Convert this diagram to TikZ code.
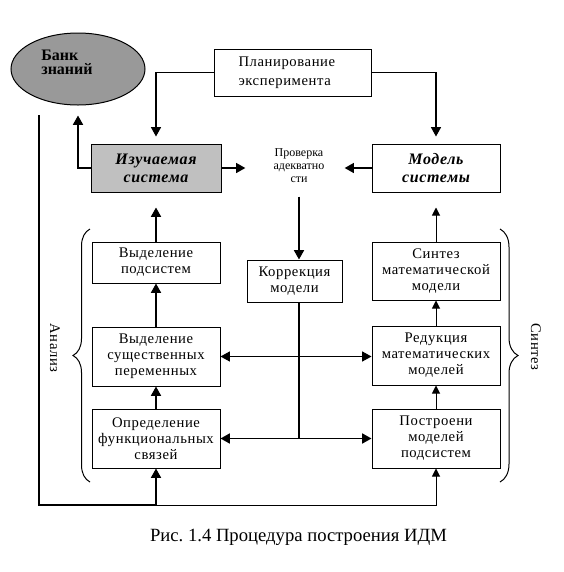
\documentclass[tikz,border=0pt]{standalone}
\usepackage{fontspec}
\setmainfont{Liberation Serif}
\newfontfamily\spacedrm{Liberation Serif}[LetterSpace=4]
\usetikzlibrary{arrows.meta}
\usetikzlibrary{shapes.geometric}
\usetikzlibrary{decorations.pathreplacing}

\definecolor{bankgray}{RGB}{153,153,153}
\definecolor{izgray}{RGB}{192,192,192}

\tikzset{
  block/.style={draw, line width=0.75pt, inner sep=0pt, minimum width=96pt, align=center,
    font=\spacedrm\fontsize{11}{12}\selectfont},
  conn/.style={line width=1.25pt},
  fine/.style={line width=0.75pt},
  arr/.style={-{Triangle[length=7pt,width=7.5pt]}},
  arrs/.style={-{Triangle[length=6pt,width=6pt]}},
}

\begin{document}
\frenchspacing
\begin{tikzpicture}[x=0.75pt,y=-0.75pt]
\useasboundingbox (0,0) rectangle (564,572);
% top row
\node[ellipse, draw, line width=0.75pt, fill=bankgray, minimum width=100.5pt, minimum height=54pt] (bank) at (78,69) {};
\node[align=left, font=\bfseries\fontsize{12}{10.5}\selectfont] (banktxt) at (67,62) {Банк\\знаний};
\node[block, minimum width=117.75pt, minimum height=35.25pt, text width=81pt, align=left,
  font=\spacedrm\fontsize{11}{14}\selectfont] (plan) at (292.5,72.5) {Планирование\\эксперимента};
\node[block, fill=izgray, minimum width=97.5pt, minimum height=36pt,
  font=\spacedrm\bfseries\itshape\fontsize{12}{13.5}\selectfont] (izuch) at (156,168) {Изучаемая\\система};
\node[block, minimum height=36pt,
  font=\spacedrm\bfseries\itshape\fontsize{12}{13.5}\selectfont] (model) at (436,168) {Модель\\системы};
\node[align=center, inner sep=0pt, font=\fontsize{9}{9.75}\selectfont] (check) at (299,166) {Проверка\\адекватно\\сти};
\node[block, minimum width=71.25pt, minimum height=31.5pt] (korr) at (294.5,281) {Коррекция\\модели};
% analysis column
\node[block, minimum height=30.75pt] (vpod) at (156,262.5) {Выделение\\подсистем};
\node[block, minimum height=44.25pt] (vsush) at (156,356.5) {Выделение\\существенных\\переменных};
\node[block, minimum height=44.25pt] (opred) at (156,438.5) {Определение\\функциональных\\связей};
% synthesis column
\node[block, minimum height=43.5pt] (sintez) at (436,271) {Синтез\\математической\\модели};
\node[block, minimum height=44.25pt] (redukc) at (436,355.5) {Редукция\\математических\\моделей};
\node[block, minimum height=44.25pt] (postr) at (436,438.5) {Построени\\моделей\\подсистем};
% braces
\draw[fine, decorate, decoration={brace, amplitude=12.75pt}] (90,482) -- (90,229);
\draw[fine, decorate, decoration={brace, amplitude=13.5pt}] (500,229) -- (500,482);
\node[rotate=-90, font=\spacedrm\fontsize{11}{12}\selectfont] (analiz) at (55,348) {Анализ};
\node[rotate=-90, font=\spacedrm\fontsize{11}{12}\selectfont] (sint) at (536,347) {Синтез};
% connectors
\coordinate (jn) at (299,438.5);
\coordinate (lt) at (39,115);
\coordinate (lb) at (39,505);
\draw[line width=1pt, arr, shorten >=5.25pt] (plan.west) -| (izuch.north);
\draw[line width=1pt, arr, shorten >=5.25pt] (plan.east) -| (model.north);
\draw[conn, arr, shorten >=7.5pt] (izuch.west) -| (bank.south);
\draw[conn, arr, shorten >=21pt] (izuch.east) -- (izuch.east -| check.west);
\draw[conn, arr, shorten >=15pt] (model.west) -- (model.west -| check.east);
\draw[conn, arr, shorten <=10pt] (check.south) -- (check.south |- korr.north);
\draw[conn] (korr.south -| jn) -- (jn);
\draw[conn, arr] (jn) -- (opred.east);
\draw[conn, arr] (jn) -- (postr.west);
\draw[fine, {Triangle[length=7pt,width=7.5pt]}-{Triangle[length=7pt,width=7.5pt]}] (vsush.east) -- (vsush.east -| redukc.west);
\draw[conn, arr, shorten >=11.25pt] (vpod.north) -- (izuch.south);
\draw[conn, arr] (vsush.north) -- (vpod.south);
\draw[conn, arr] (opred.north) -- (vsush.south);
\draw[fine, arrs, shorten >=11.25pt] (sintez.north) -- (model.south);
\draw[fine, arrs] (redukc.north) -- (sintez.south);
\draw[fine, arrs] (postr.north) -- (redukc.south);
\draw[conn] (lt) -- (lb) -- (lb -| opred.south);
\draw[conn, arr] (lb -| opred.south) -- (opred.south);
\draw[fine, arrs] (lb -| opred.south) -| (postr.south);
% caption
\node[font=\fontsize{14}{16}\selectfont] (caption) at (298.5,537) {Рис. 1.4 Процедура построения ИДМ};
\end{tikzpicture}
\end{document}
